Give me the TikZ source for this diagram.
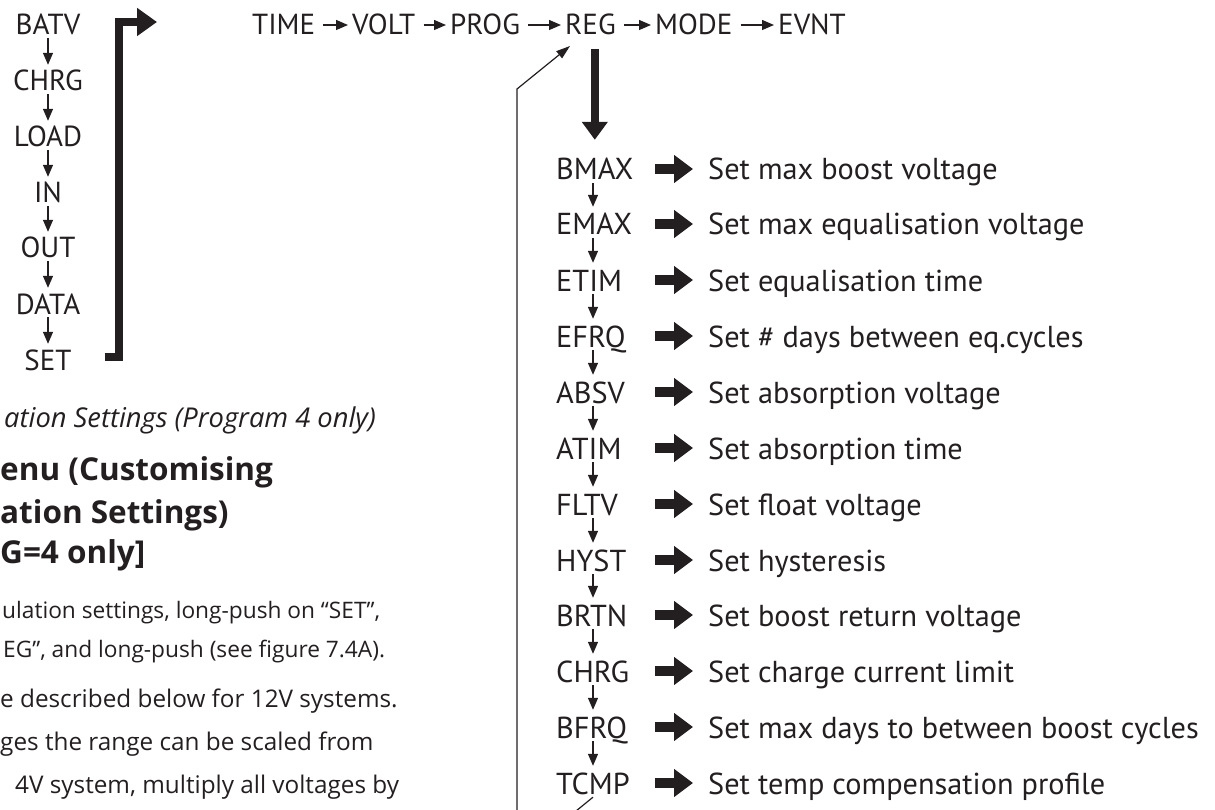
\documentclass[tikz,border=0pt]{standalone}
\usepackage{fontspec}
\setmainfont{PT Sans}
\newfontfamily\gillfont{Open Sans}
\usepackage{xcolor}
\usepackage{tikz}
\definecolor{ink}{HTML}{231F20}
\tikzset{
	menu/.style = {font=\fontsize{29}{34}\selectfont, text=ink, inner sep=0pt, text height=20pt, text depth=0pt},
	regcode/.style = {font=\fontsize{30.3}{36}\selectfont, text=ink, inner sep=0pt, text height=22pt, text depth=0pt, anchor=west},
	regdesc/.style = {regcode},
	stepdown/.style = {draw=ink, line width=1.3pt, -{Triangle[length=12pt,width=10pt]}, shorten <=3pt, shorten >=6pt},
	nextitem/.style = {draw=ink, line width=1.3pt, -{Triangle[length=12pt,width=10pt]}, shorten <=8pt, shorten >=4pt},
	fatright/.style = {draw=ink, line width=10pt, -{Triangle[length=19pt,width=27pt]}, shorten >=15pt},
	fatdown/.style = {draw=ink, line width=8pt, -{Triangle[length=18pt,width=25pt]}, shorten <=14pt, shorten >=18pt},
	bracket/.style = {draw=ink, line width=8pt, line join=miter, -{Triangle[length=20pt,width=27pt]}},
	back/.style = {draw=ink, line width=1.2pt, -{Triangle[length=14pt,width=9pt]}},
	para/.style = {text=ink, inner sep=0pt, anchor=base west}
}
\usetikzlibrary{arrows.meta}

\begin{document}
\begin{tikzpicture}[x=1pt,y=-1pt]
	\useasboundingbox (0,0) rectangle (1215,810);
	\clip (0,0) rectangle (1215,810);

	% display menu
	\node[menu] (batv) at (48,25) {BATV};
	\node[menu] (chrg) at (48,81) {CHRG};
	\node[menu] (load) at (48,137) {LOAD};
	\node[menu] (in) at (48,193) {IN};
	\node[menu] (out) at (48,248) {OUT};
	\node[menu] (data) at (48,304) {DATA};
	\node[menu] (set) at (48,360) {SET};
	\draw[stepdown] (batv) -- (chrg);
	\draw[stepdown] (chrg) -- (load);
	\draw[stepdown] (load) -- (in);
	\draw[stepdown] (in) -- (out);
	\draw[stepdown] (out) -- (data);
	\draw[stepdown] (data) -- (set);

	\coordinate (brktop) at (119,22);
	\coordinate (brktip) at (157,22);
	\draw[bracket] ([xshift=33pt,yshift=3pt]set.east) -| (brktop) -- (brktip);

	% settings menu
	\node[menu, anchor=west] (time) at (252,25) {TIME};
	\node[menu, anchor=west] (volt) at (352,25) {VOLT};
	\node[menu, anchor=west] (prog) at (450,25) {PROG};
	\node[menu, anchor=west] (reg) at (565,25) {REG};
	\node[menu, anchor=west] (mode) at (655,25) {MODE};
	\node[menu, anchor=west] (evnt) at (778,25) {EVNT};
	\draw[nextitem] (time) -- (volt);
	\draw[nextitem] (volt) -- (prog);
	\draw[nextitem] (prog) -- (reg);
	\draw[nextitem] (reg) -- (mode);
	\draw[nextitem] (mode) -- (evnt);

	% regulation settings
	\coordinate (axis) at (593,0);
	\coordinate (barrow) at (655,0);
	\node[regcode] (bmax) at (556,169) {BMAX};
	\node[regcode] (emax) at (556,224) {EMAX};
	\node[regcode] (etim) at (556,280) {ETIM};
	\node[regcode] (efrq) at (556,336) {EFRQ};
	\node[regcode] (absv) at (556,392) {ABSV};
	\node[regcode] (atim) at (556,448) {ATIM};
	\node[regcode] (fltv) at (556,504) {FLTV};
	\node[regcode] (hyst) at (556,560) {HYST};
	\node[regcode] (brtn) at (556,615) {BRTN};
	\node[regcode] (chrgr) at (556,671) {CHRG};
	\node[regcode] (bfrq) at (556,727) {BFRQ};
	\node[regcode] (tcmp) at (556,783) {TCMP};

	\node[regdesc] (dbmax) at (708,169) {Set max boost voltage};
	\node[regdesc] (demax) at (708,224) {Set max equalisation voltage};
	\node[regdesc] (detim) at (708,280) {Set equalisation time};
	\node[regdesc] (defrq) at (708,336) {Set \# days between eq.cycles};
	\node[regdesc] (dabsv) at (708,392) {Set absorption voltage};
	\node[regdesc] (datim) at (708,448) {Set absorption time};
	\node[regdesc] (dfltv) at (708,504) {Set float voltage};
	\node[regdesc] (dhyst) at (708,560) {Set hysteresis};
	\node[regdesc] (dbrtn) at (708,615) {Set boost return voltage};
	\node[regdesc] (dchrgr) at (708,671) {Set charge current limit};
	\node[regdesc] (dbfrq) at (708,727) {Set max days to between boost cycles};
	\node[regdesc] (dtcmp) at (708,783) {Set temp compensation profile};

	\draw[stepdown] (bmax.south -| axis) -- (emax.north -| axis);
	\draw[stepdown] (emax.south -| axis) -- (etim.north -| axis);
	\draw[stepdown] (etim.south -| axis) -- (efrq.north -| axis);
	\draw[stepdown] (efrq.south -| axis) -- (absv.north -| axis);
	\draw[stepdown] (absv.south -| axis) -- (atim.north -| axis);
	\draw[stepdown] (atim.south -| axis) -- (fltv.north -| axis);
	\draw[stepdown] (fltv.south -| axis) -- (hyst.north -| axis);
	\draw[stepdown] (hyst.south -| axis) -- (brtn.north -| axis);
	\draw[stepdown] (brtn.south -| axis) -- (chrgr.north -| axis);
	\draw[stepdown] (chrgr.south -| axis) -- (bfrq.north -| axis);
	\draw[stepdown] (bfrq.south -| axis) -- (tcmp.north -| axis);

	\draw[fatright] (bmax -| barrow) -- (dbmax);
	\draw[fatright] (emax -| barrow) -- (demax);
	\draw[fatright] (etim -| barrow) -- (detim);
	\draw[fatright] (efrq -| barrow) -- (defrq);
	\draw[fatright] (absv -| barrow) -- (dabsv);
	\draw[fatright] (atim -| barrow) -- (datim);
	\draw[fatright] (fltv -| barrow) -- (dfltv);
	\draw[fatright] (hyst -| barrow) -- (dhyst);
	\draw[fatright] (brtn -| barrow) -- (dbrtn);
	\draw[fatright] (chrgr -| barrow) -- (dchrgr);
	\draw[fatright] (bfrq -| barrow) -- (dbfrq);
	\draw[fatright] (tcmp -| barrow) -- (dtcmp);

	\draw[fatdown] (reg.south -| bmax) -- (bmax.north);

	\coordinate (rettop) at (517,89);
	\coordinate (retbot) at (517,859);
	\coordinate (regin) at (570,46);
	\draw[back] ([yshift=-3pt]tcmp.south) -- (retbot) -- (rettop) -- (regin);

	% text beside the figure
	\node[para, font=\gillfont\itshape\fontsize{27.3}{31}\selectfont] (caption) at (4,427) {ation Settings (Program 4 only)};
	\node[para, font=\gillfont\bfseries\fontsize{31.5}{35}\selectfont] (head1) at (0,480) {enu (Customising};
	\node[para, font=\gillfont\bfseries\fontsize{31.5}{35}\selectfont] (head2) at (0,523) {ation Settings)};
	\node[para, font=\gillfont\bfseries\fontsize{31.5}{35}\selectfont] (head3) at (0,563) {G=4 only]};
	\node[para, font=\gillfont\fontsize{22.7}{25}\selectfont] (body1) at (2,618) {ulation settings, long-push on “SET”,};
	\node[para, font=\gillfont\fontsize{22.7}{25}\selectfont] (body2) at (3,657) {EG”, and long-push (see figure 7.4A).};
	\node[para, font=\gillfont\fontsize{24.3}{28}\selectfont] (body3) at (0,707) {e described below for 12V systems.};
	\node[para, font=\gillfont\fontsize{24.3}{28}\selectfont] (body4) at (0,750) {ges the range can be scaled from};
	\node[para, font=\gillfont\fontsize{24.3}{28}\selectfont] (body5) at (15,793) {4V system, multiply all voltages by};
\end{tikzpicture}
\end{document}
